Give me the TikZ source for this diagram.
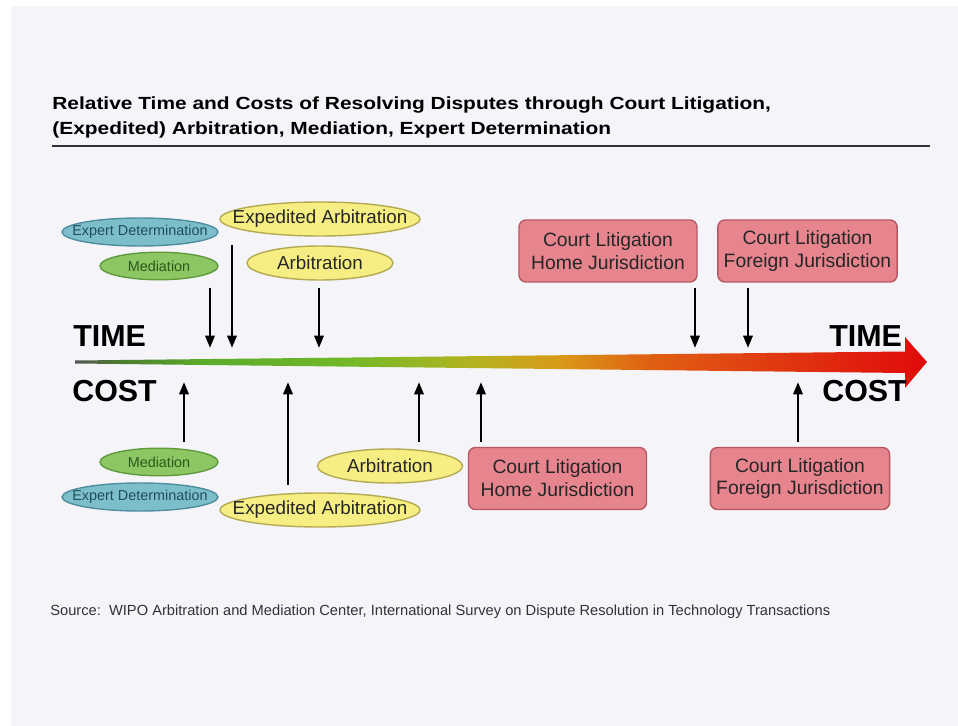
\documentclass[tikz,border=0pt]{standalone}
\usepackage{fontspec}
\setmainfont{Liberation Sans}
\newfontfamily\headfont[FakeStretch=1.19]{Liberation Sans}
\usetikzlibrary{shapes.geometric,arrows.meta}

\definecolor{panelbg}{HTML}{F4F4F9}
\definecolor{expertfill}{HTML}{7CBFCB}
\definecolor{expertline}{HTML}{4F8E9E}
\definecolor{experttext}{HTML}{1F4E5A}
\definecolor{medfill}{HTML}{8DC763}
\definecolor{medline}{HTML}{5F9A3C}
\definecolor{medtext}{HTML}{2B5A1C}
\definecolor{arbfill}{HTML}{F6EE82}
\definecolor{arbline}{HTML}{B4AA52}
\definecolor{courtfill}{HTML}{E7858F}
\definecolor{courtline}{HTML}{B65762}
\definecolor{barA}{HTML}{555555}
\definecolor{barB}{HTML}{4C7C30}
\definecolor{barC}{HTML}{5AAA2A}
\definecolor{barD}{HTML}{72B828}
\definecolor{barE}{HTML}{B2B420}
\definecolor{barF}{HTML}{D99A18}
\definecolor{barG}{HTML}{E06012}
\definecolor{barH}{HTML}{E03210}
\definecolor{barI}{HTML}{E00A0A}

\pgfdeclarehorizontalshading{timecost}{100bp}{color(0bp)=(barA); color(25bp)=(barA); color(27.6bp)=(barB); color(32.3bp)=(barC); color(41.1bp)=(barD); color(48.2bp)=(barE); color(53.4bp)=(barF); color(58.7bp)=(barG); color(67.5bp)=(barH); color(75bp)=(barI); color(100bp)=(barI)}

% text may run up to the rim of an ellipse
\newcommand{\squeezed}[1]{\makebox[0pt]{#1}}

\tikzset{
  expert/.style={ellipse,draw=expertline,fill=expertfill,line width=0.8pt,inner sep=0pt,
    minimum width=3.12cm,minimum height=0.56cm,text=experttext,font=\fontsize{8.2}{9}\selectfont},
  medi/.style={ellipse,draw=medline,fill=medfill,line width=0.8pt,inner sep=0pt,
    minimum width=2.36cm,minimum height=0.55cm,text=medtext,font=\fontsize{8.2}{9}\selectfont},
  arbi/.style={ellipse,draw=arbline,fill=arbfill,line width=0.8pt,inner sep=0pt,
    minimum height=0.68cm,text=black!85,font=\fontsize{10.7}{12}\selectfont},
  court/.style={rectangle,rounded corners=4pt,draw=courtline,fill=courtfill,line width=0.8pt,
    minimum width=3.56cm,minimum height=1.24cm,align=center,text=black!85,
    font=\fontsize{11}{13}\selectfont},
  axislabel/.style={anchor=west,inner sep=0pt,font=\fontsize{17.3}{18}\selectfont\bfseries},
  headline/.style={anchor=base west,inner sep=0pt,font=\headfont\fontsize{10}{12}\selectfont\bfseries},
  pointer/.style={line width=1.5pt,-{Triangle[length=7pt,width=5.2pt]}}
}

\begin{document}
\begin{tikzpicture}[x=0.02cm,y=-0.02cm]
\useasboundingbox (0,0) rectangle (958,726);
\fill[white] (0,0) rectangle (958,726);
\fill[panelbg] (11,6) rectangle (958,726);

% heading
\node[headline] (title1) at (52,110) {Relative Time and Costs of Resolving Disputes through Court Litigation,};
\node[headline] (title2) at (52,135) {(Expedited) Arbitration, Mediation, Expert Determination};
\coordinate (ruleL) at (52,146);
\coordinate (ruleR) at (930,146);
\draw[line width=1.3pt,black!80] (ruleL) -- (ruleR);

% time / cost arrow
\shade[shading=timecost] (75,360.5) -- (905,351.5) -- (905,337) -- (927,362)
  -- (905,388) -- (905,373) -- (75,363.5) -- cycle;
\node[axislabel] (timeL) at (73,336) {TIME};
\node[axislabel] (costL) at (72,391) {COST};
\node[axislabel] (timeR) at (829,336) {TIME};
\node[axislabel] (costR) at (822,391) {COST};

% time (above)
\node[expert] (edT) at (140,232) {\squeezed{Expert Determination}};
\node[medi] (meT) at (159,266) {\squeezed{Mediation}};
\node[arbi,minimum width=4cm] (eaT) at (320,219) {\squeezed{Expedited Arbitration}};
\node[arbi,minimum width=2.92cm] (arT) at (320,263) {\squeezed{Arbitration}};
\node[court] (chT) at (608,251) {Court Litigation\\Home Jurisdiction};
\node[court] (cfT) at (807.5,251) {Court Litigation\\Foreign Jurisdiction};

\coordinate (t1a) at (210,288); \coordinate (t1b) at (210,348);
\coordinate (t2a) at (232,245); \coordinate (t2b) at (232,348);
\coordinate (t3a) at (319,288); \coordinate (t3b) at (319,348);
\coordinate (t4a) at (695,288); \coordinate (t4b) at (695,348);
\coordinate (t5a) at (748,288); \coordinate (t5b) at (748,348);
\draw[pointer] (t1a) -- (t1b);
\draw[pointer] (t2a) -- (t2b);
\draw[pointer] (t3a) -- (t3b);
\draw[pointer] (t4a) -- (t4b);
\draw[pointer] (t5a) -- (t5b);

% cost (below)
\node[medi] (meC) at (159,462) {\squeezed{Mediation}};
\node[expert] (edC) at (140,497) {\squeezed{Expert Determination}};
\node[arbi,minimum width=2.9cm] (arC) at (390,466) {\squeezed{Arbitration}};
\node[arbi,minimum width=4cm] (eaC) at (320,510) {\squeezed{Expedited Arbitration}};
\node[court] (chC) at (557.5,478.5) {Court Litigation\\Home Jurisdiction};
\node[court] (cfC) at (800,478.5) {Court Litigation\\Foreign Jurisdiction};

\coordinate (c1a) at (184,442); \coordinate (c1b) at (184,382);
\coordinate (c2a) at (288,485); \coordinate (c2b) at (288,382);
\coordinate (c3a) at (419,442); \coordinate (c3b) at (419,382);
\coordinate (c4a) at (481,442); \coordinate (c4b) at (481,382);
\coordinate (c5a) at (798,442); \coordinate (c5b) at (798,382);
\draw[pointer] (c1a) -- (c1b);
\draw[pointer] (c2a) -- (c2b);
\draw[pointer] (c3a) -- (c3b);
\draw[pointer] (c4a) -- (c4b);
\draw[pointer] (c5a) -- (c5b);

% source line
\node[anchor=west,inner sep=0pt,text=black!80,font=\fontsize{8.35}{9}\selectfont] (source) at (50,612)
  {Source:\ \ WIPO Arbitration and Mediation Center, International Survey on Dispute Resolution in Technology Transactions};
\end{tikzpicture}
\end{document}
